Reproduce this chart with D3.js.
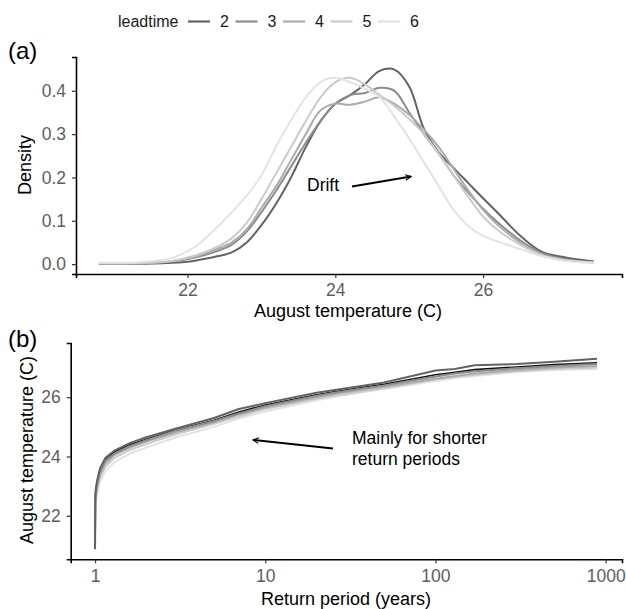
<head>
<meta charset="utf-8">
<style>
 body { margin: 0; background: #ffffff; }
 text { font-family: "Liberation Sans", Arial, sans-serif; }
</style>
</head>
<body>
<script src="https://d3js.org/d3.v7.min.js"></script>
<div id="chart"></div>
<script>
var width = 626, height = 609;

var leadtimes = ["2", "3", "4", "5", "6"];
var colors = ["#636363", "#8c8c8c", "#acacac", "#cbcbcb", "#e3e3e3"];

// panel (a): density of August temperature per leadtime
var tempGrid = [20.8, 21.4, 21.8, 22.1, 22.4, 22.6, 22.8, 23.0, 23.2, 23.4, 23.6, 23.8, 24.0, 24.2,
                24.4, 24.6, 24.8, 25.0, 25.2, 25.4, 25.6, 25.8, 26.0, 26.2, 26.5, 26.8, 27.1, 27.5];
var dens2 = [0.001, 0.001, 0.003, 0.008, 0.018, 0.027, 0.05, 0.09, 0.14, 0.2, 0.27, 0.33, 0.37, 0.39,
             0.415, 0.446, 0.449, 0.41, 0.312, 0.258, 0.222, 0.187, 0.152, 0.118, 0.066, 0.028, 0.016, 0.006];
var dens3 = [0.002, 0.002, 0.006, 0.015, 0.03, 0.045, 0.075, 0.12, 0.17, 0.225, 0.28, 0.33, 0.37, 0.39,
             0.395, 0.407, 0.4, 0.35, 0.3, 0.255, 0.205, 0.165, 0.128, 0.096, 0.055, 0.025, 0.012, 0.004];
var dens4 = [0.002, 0.002, 0.007, 0.017, 0.035, 0.05, 0.08, 0.13, 0.18, 0.24, 0.3, 0.355, 0.37, 0.368,
             0.375, 0.385, 0.37, 0.345, 0.31, 0.27, 0.22, 0.17, 0.125, 0.09, 0.05, 0.022, 0.01, 0.004];
var dens5 = [0.002, 0.003, 0.008, 0.02, 0.04, 0.06, 0.095, 0.15, 0.21, 0.27, 0.33, 0.385, 0.42, 0.43,
             0.415, 0.39, 0.365, 0.335, 0.3, 0.255, 0.205, 0.155, 0.11, 0.078, 0.045, 0.02, 0.009, 0.003];
var dens6 = [0.003, 0.005, 0.015, 0.04, 0.085, 0.12, 0.158, 0.205, 0.272, 0.332, 0.385, 0.42, 0.43, 0.42,
             0.405, 0.385, 0.34, 0.29, 0.235, 0.18, 0.125, 0.088, 0.065, 0.052, 0.035, 0.018, 0.008, 0.003];
var densities = [dens2, dens3, dens4, dens5, dens6];

// panel (b): return level curves per leadtime
var returnPeriods = [1, 1.003, 1.01, 1.03, 1.07, 1.15, 1.3, 1.6, 2, 3, 5, 7, 10, 20, 30, 50,
                     100, 130, 170, 300, 500, 890];
var ret2 = [20.87, 22.6, 22.9, 23.2, 23.6, 23.95, 24.2, 24.45, 24.65, 24.95, 25.3, 25.6, 25.8, 26.15,
            26.3, 26.5, 26.9, 26.95, 27.08, 27.12, 27.2, 27.3];
var ret3 = [21.2, 22.4, 22.8, 23.1, 23.5, 23.85, 24.1, 24.35, 24.55, 24.88, 25.2, 25.45, 25.7, 26.05,
            26.22, 26.4, 26.7, 26.8, 26.88, 26.98, 27.05, 27.12];
var ret4 = [21.4, 22.2, 22.7, 23.0, 23.4, 23.75, 24.05, 24.3, 24.5, 24.82, 25.15, 25.42, 25.65, 26.0,
            26.18, 26.35, 26.62, 26.72, 26.8, 26.92, 27.0, 27.05];
var ret5 = [21.5, 22.0, 22.6, 22.9, 23.3, 23.65, 23.95, 24.22, 24.42, 24.75, 25.1, 25.35, 25.6, 25.95,
            26.12, 26.3, 26.6, 26.68, 26.76, 26.88, 26.95, 27.0];
var ret6 = [21.6, 21.9, 22.4, 22.75, 23.15, 23.5, 23.8, 24.1, 24.3, 24.65, 25.0, 25.28, 25.52, 25.9,
            26.08, 26.28, 26.55, 26.65, 26.72, 26.85, 26.92, 26.95];
var retAll = [20.9, 22.5, 22.85, 23.15, 23.55, 23.9, 24.15, 24.4, 24.58, 24.9, 25.22, 25.5, 25.74, 26.08,
              26.25, 26.44, 26.76, 26.84, 26.93, 27.02, 27.1, 27.16];
var returns = [ret2, ret3, ret4, ret5, ret6];

var densTicks = [0.0, 0.1, 0.2, 0.3, 0.4];
var tempTicks = [22, 24, 26];
var retTempTicks = [22, 24, 26];
var periodTicks = [1, 10, 100, 1000];

var svg = d3.select("#chart").append("svg")
    .attr("width", width).attr("height", height);

var tickColor = "#5e5e5e";
var tickFont = "17.5px";
var titleFont = "18px";

// ---------- legend ----------
var legend = svg.append("g");
legend.append("text").attr("x", 118).attr("y", 27).text("leadtime")
    .style("font-size", "16px").style("fill", "#1a1a1a");
leadtimes.forEach(function(l, i) {
  var x0 = 188 + i * 47.5;
  legend.append("line").attr("x1", x0).attr("x2", x0 + 22).attr("y1", 21.5).attr("y2", 21.5)
      .attr("stroke", colors[i]).attr("stroke-width", 2.2);
  legend.append("text").attr("x", x0 + 32).attr("y", 27).text(l)
      .style("font-size", "16px").style("fill", "#1a1a1a");
});

// ---------- panel (a) ----------
var xa = d3.scaleLinear().domain([20.49, 27.88]).range([76, 622]);
var ya = d3.scaleLinear().domain([-0.0228, 0.478]).range([274, 57]);

var ga = svg.append("g");
var lineA = d3.line().curve(d3.curveCatmullRom.alpha(0.5))
    .x(function(d) { return xa(d[0]); }).y(function(d) { return ya(d[1]); });

densities.forEach(function(ds, i) {
  ga.append("path").datum(tempGrid.map(function(t, j) { return [t, ds[j]]; }))
    .attr("d", lineA).attr("fill", "none")
    .attr("stroke", colors[i]).attr("stroke-width", 2);
});

var axA = ga.append("g").attr("transform", "translate(0,274)")
    .call(d3.axisBottom(xa).tickValues(tempTicks).tickSize(4).tickPadding(6));
var ayA = ga.append("g").attr("transform", "translate(76,0)")
    .call(d3.axisLeft(ya).tickValues(densTicks).tickFormat(d3.format(".1f")).tickSize(4).tickPadding(6));

[axA, ayA].forEach(function(a) {
  a.select(".domain").attr("stroke", "#000").attr("stroke-width", 1.6);
  a.selectAll(".tick line").attr("stroke", "#333").attr("stroke-width", 1.2);
  a.selectAll(".tick text").style("font-size", tickFont).style("fill", tickColor)
    .style("font-family", "Liberation Sans, Arial, sans-serif");
});

ga.append("text").attr("x", 348).attr("y", 317).attr("text-anchor", "middle")
    .text("August temperature (C)").style("font-size", titleFont);
ga.append("text").attr("transform", "translate(31,165) rotate(-90)").attr("text-anchor", "middle")
    .text("Density").style("font-size", titleFont);
svg.append("text").attr("x", 8).attr("y", 59).text("(a)").style("font-size", "24px");

// annotation: Drift
var defs = svg.append("defs");
defs.append("marker").attr("id", "arr").attr("viewBox", "0 0 10 10")
    .attr("refX", 9).attr("refY", 5).attr("markerWidth", 7).attr("markerHeight", 7)
    .attr("orient", "auto-start-reverse").attr("markerUnits", "userSpaceOnUse")
  .append("path").attr("d", "M1,1 L9,5 L1,9").attr("fill", "none")
    .attr("stroke", "#000").attr("stroke-width", 1.6);

ga.append("text").attr("x", 307).attr("y", 191).text("Drift").style("font-size", "17.5px");
ga.append("line").attr("x1", 352).attr("y1", 186.5).attr("x2", 411).attr("y2", 176.5)
    .attr("stroke", "#000").attr("stroke-width", 2).attr("marker-end", "url(#arr)");

// ---------- panel (b) ----------
var xb = d3.scaleLog().domain([Math.pow(10, -0.143), Math.pow(10, 3.096)]).range([70.7, 622]);
var yb = d3.scaleLinear().domain([20.53, 27.83]).range([559.3, 343]);

var gb = svg.append("g");
var lineB = d3.line()
    .x(function(d) { return xb(d[0]); }).y(function(d) { return yb(d[1]); });

gb.append("path").datum(returnPeriods.map(function(t, j) { return [t, retAll[j]]; }))
  .attr("d", lineB).attr("fill", "none").attr("stroke", "#111").attr("stroke-width", 1.6);

returns.slice().reverse().forEach(function(rs, k) {
  var i = returns.length - 1 - k;
  gb.append("path").datum(returnPeriods.map(function(t, j) { return [t, rs[j]]; }))
    .attr("d", lineB).attr("fill", "none")
    .attr("stroke", colors[i]).attr("stroke-width", 2);
});

var axB = gb.append("g").attr("transform", "translate(0,559.3)")
    .call(d3.axisBottom(xb).tickValues(periodTicks).tickFormat(d3.format("d")).tickSize(4).tickPadding(6));
var ayB = gb.append("g").attr("transform", "translate(70.7,0)")
    .call(d3.axisLeft(yb).tickValues(retTempTicks).tickSize(4).tickPadding(6));

[axB, ayB].forEach(function(a) {
  a.select(".domain").attr("stroke", "#000").attr("stroke-width", 1.6);
  a.selectAll(".tick line").attr("stroke", "#333").attr("stroke-width", 1.2);
  a.selectAll(".tick text").style("font-size", tickFont).style("fill", tickColor)
    .style("font-family", "Liberation Sans, Arial, sans-serif");
});

gb.append("text").attr("x", 346).attr("y", 605).attr("text-anchor", "middle")
    .text("Return period (years)").style("font-size", titleFont);
gb.append("text").attr("transform", "translate(32.5,450) rotate(-90)").attr("text-anchor", "middle")
    .text("August temperature (C)").style("font-size", titleFont);
svg.append("text").attr("x", 8).attr("y", 347).text("(b)").style("font-size", "24px");

gb.append("text").attr("x", 352).attr("y", 444).text("Mainly for shorter").style("font-size", "17.5px");
gb.append("text").attr("x", 352).attr("y", 465).text("return periods").style("font-size", "17.5px");
gb.append("line").attr("x1", 333).attr("y1", 448.5).attr("x2", 253).attr("y2", 440)
    .attr("stroke", "#000").attr("stroke-width", 2).attr("marker-end", "url(#arr)");
</script>
</body>
